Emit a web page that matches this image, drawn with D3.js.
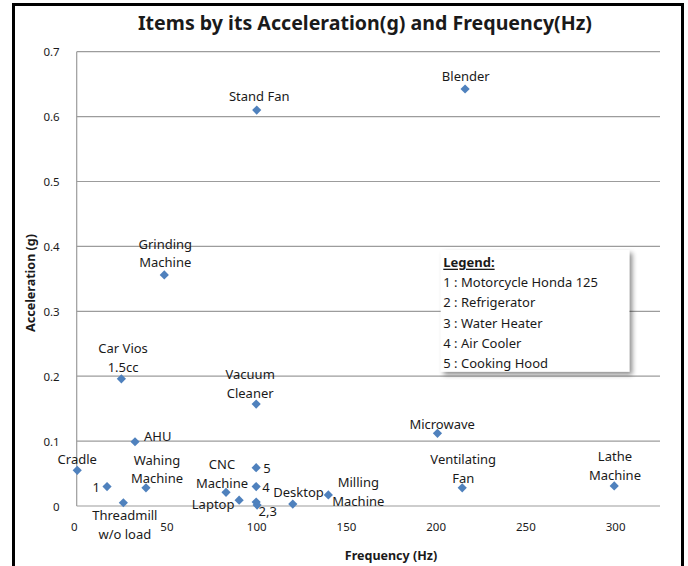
<!DOCTYPE html>
<html><head><meta charset="utf-8">
<script src="https://cdn.jsdelivr.net/npm/d3@7"></script>
<style>
html,body{margin:0;padding:0;background:#fff;}
svg{display:block;}
text{font-family:"Noto Sans",sans-serif;fill:#1a1a1a;}
</style></head>
<body>
<script>
// ---- data ----
const items = ["Cradle","Motorcycle Honda 125","Threadmill w/o load","AHU","Wahing Machine","Grinding Machine","Car Vios 1.5cc","CNC Machine","Laptop","Cooking Hood","Air Cooler","Refrigerator","Water Heater","Desktop","Milling Machine","Vacuum Cleaner","Stand Fan","Blender","Microwave","Ventilating Fan","Lathe Machine"];
const frequency = [0.3,16.9,26,32.5,38.6,48.8,24.9,83.2,90.5,100,100,100,100.5,120.4,140.2,100,100.3,216.4,201,214.8,299.5];
const acceleration = [0.055,0.030,0.005,0.099,0.028,0.356,0.196,0.021,0.009,0.059,0.030,0.006,0.0015,0.003,0.017,0.157,0.610,0.6425,0.112,0.028,0.031];
const pointLabels = [["Cradle"],["1"],["Threadmill","w/o load"],["AHU"],["Wahing","Machine"],["Grinding","Machine"],["Car Vios","1.5cc"],["CNC","Machine"],["Laptop"],["5"],["4"],[],["2,3"],["Desktop"],["Milling","Machine"],["Vacuum","Cleaner"],["Stand Fan"],["Blender"],["Microwave"],["Ventilating","Fan"],["Lathe","Machine"]];
const xTicks = [0,50,100,150,200,250,300];
const yTicks = [0,0.1,0.2,0.3,0.4,0.5,0.6,0.7];
const legendTitle = "Legend:";
const legendItems = ["1 : Motorcycle Honda 125","2 : Refrigerator","3 : Water Heater","4 : Air Cooler","5 : Cooking Hood"];
const title = "Items by its Acceleration(g) and Frequency(Hz)";
const xTitle = "Frequency (Hz)";
const yTitle = "Acceleration (g)";

// ---- label placement (layout only): anchor, dx, dy of first line centre ----
const labelPlace = [
  ["middle",0,-11],["end",-7,0],["middle",1.5,12.3],["start",9,-5.7],["middle",11,-28],
  ["middle",1,-31],["middle",1.7,-30.7],["middle",-4,-28],["middle",-26,3.7],["start",7,0],
  ["start",6,0],["start",0,0],["start",1.5,5.5],["middle",5.7,-12],["middle",30,-12.7],
  ["middle",-6,-30],["middle",2.5,-14.3],["middle",0.7,-13.3],["middle",4.7,-9.3],["middle",1,-28.7],["middle",0.7,-29.7]
];

const W = 688, H = 566;
const svg = d3.select("body").append("svg").attr("width",W).attr("height",H);
svg.append("rect").attr("width",W).attr("height",H).attr("fill","#fff");

const x = d3.scaleLinear().domain([0,325]).range([76.7,660]);
const y = d3.scaleLinear().domain([0,0.7]).range([506,51.7]);

// gridlines
svg.append("g").selectAll("line").data(yTicks).join("line")
  .attr("x1",x(0)).attr("x2",x(325)).attr("y1",d=>y(d)).attr("y2",d=>y(d))
  .attr("stroke","#9c9c9c").attr("stroke-width",1.2);
// left axis line
svg.append("line").attr("x1",x(0)).attr("x2",x(0)).attr("y1",y(0.7)).attr("y2",y(0))
  .attr("stroke","#9c9c9c").attr("stroke-width",1.2);

// axes via d3 (labels only)
const yAxis = svg.append("g").attr("transform",`translate(${x(0)-14},0)`)
  .call(d3.axisLeft(y).tickValues(yTicks).tickSize(0).tickFormat(d=>d===0?"0":d3.format(".1f")(d)));
yAxis.select(".domain").remove();
yAxis.selectAll("text").attr("font-size",11.5).attr("font-family","Noto Sans").attr("fill","#222").attr("dy","0.35em");

const xAxis = svg.append("g").attr("transform",`translate(0,${y(0)+21})`)
  .call(d3.axisBottom(x).tickValues(xTicks).tickSize(0).tickFormat(d3.format("d")));
xAxis.select(".domain").remove();
xAxis.selectAll("text").attr("font-size",11.5).attr("font-family","Noto Sans").attr("fill","#222").attr("y",0).attr("dy","0.35em").attr("dx",(d)=>d===0?-3:0);

// points
const diamond = "M0,-4.6L4.6,0L0,4.6L-4.6,0Z";
svg.append("g").selectAll("path").data(frequency).join("path")
  .attr("d",diamond)
  .attr("transform",(d,i)=>`translate(${x(d)},${y(acceleration[i])})`)
  .attr("fill","#4F81BD");

// point labels
const lg = svg.append("g");
pointLabels.forEach((lines,i)=>{
  const [anchor,dx,dy] = labelPlace[i];
  const px = x(frequency[i]), py = y(acceleration[i]);
  lines.forEach((t,j)=>{
    lg.append("text").attr("x",px+dx).attr("y",py+dy+j*18.5)
      .attr("text-anchor",anchor).attr("dominant-baseline","central")
      .attr("font-size",13).text(t);
  });
});

// legend box
const defs = svg.append("defs");
const f = defs.append("filter").attr("id","sh").attr("x","-20%").attr("y","-20%").attr("width","140%").attr("height","140%");
f.append("feGaussianBlur").attr("in","SourceAlpha").attr("stdDeviation",2.5);
f.append("feOffset").attr("dx",3).attr("dy",3).attr("result","b");
f.append("feComponentTransfer").append("feFuncA").attr("type","linear").attr("slope",0.45);
const m = f.append("feMerge"); m.append("feMergeNode"); m.append("feMergeNode").attr("in","SourceGraphic");
svg.append("rect").attr("x",440.7).attr("y",250).attr("width",188.6).attr("height",121.7)
  .attr("fill","#fff").attr("filter","url(#sh)");
svg.append("text").attr("x",443.3).attr("y",261.7).attr("dominant-baseline","central")
  .attr("font-size",13).attr("font-weight","bold").attr("text-decoration","underline").text(legendTitle);
svg.append("g").selectAll("text").data(legendItems).join("text")
  .attr("x",443.3).attr("y",(d,i)=>281.7+i*20.4).attr("dominant-baseline","central")
  .attr("font-size",13).text(d=>d);

// titles
svg.append("text").attr("x",365).attr("y",23).attr("text-anchor","middle").attr("dominant-baseline","central")
  .attr("font-size",19).attr("font-weight","bold").attr("textLength",454).attr("lengthAdjust","spacingAndGlyphs").text(title);
svg.append("text").attr("x",391).attr("y",555).attr("text-anchor","middle").attr("dominant-baseline","central")
  .attr("font-size",12.5).attr("font-weight","bold").text(xTitle);
svg.append("text").attr("transform","translate(30,283) rotate(-90)").attr("text-anchor","middle").attr("dominant-baseline","central")
  .attr("font-size",12.5).attr("font-weight","bold").text(yTitle);

// chart border
svg.append("rect").attr("x",13.5).attr("y",4.5).attr("width",669).attr("height",620)
  .attr("fill","none").attr("stroke","#000").attr("stroke-width",3);
</script>
</body></html>
